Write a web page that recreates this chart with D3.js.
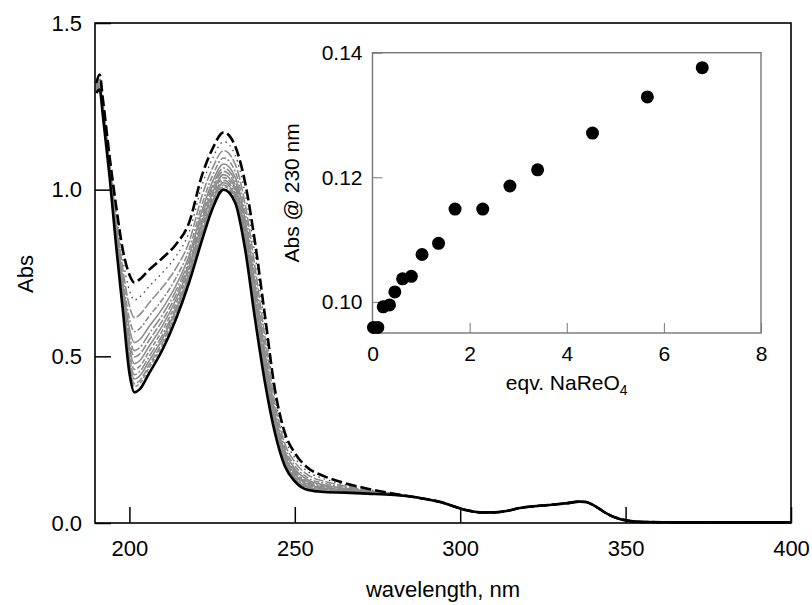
<!DOCTYPE html>
<html>
<head>
<meta charset="utf-8">
<script src="https://cdn.jsdelivr.net/npm/d3@7"></script>
<style>
  body { margin: 0; background: #fff; }
  text { font-family: "Liberation Sans", Arial, sans-serif; fill: #000; }
</style>
</head>
<body>
<svg id="chart" width="812" height="605"></svg>
<script>
// wavelengths where the spectra differ (nm)
const wl = [190, 191, 192, 194, 196, 198, 200, 201.5, 203, 206, 210, 214, 218, 222, 225, 228.5,
  232, 235, 238, 241, 244, 247, 250, 254, 259, 265, 272, 280];

// shared tail, all spectra overlap here
const tailWl = [286, 290, 294, 298, 302, 306, 310, 314, 318, 322, 327, 332, 336, 338, 340, 342,
  344, 346, 348, 350, 353, 357, 365, 380, 400];
const tailAbs = [.078, .071, .063, .050, .038, .032, .032, .036, .045, .050, .054, .059, .064, .063,
  .055, .043, .030, .020, .013, .008, .004, .003, .002, .002, .002];

// first spectrum (dashed black)
const absStart = [1.32, 1.345, 1.27, 1.10, .95, .82, .745, .722, .73, .76, .795, .835, .90, 1.045,
  1.12, 1.172, 1.13, 1.02, .84, .62, .40, .27, .21, .165, .14, .12, .103, .088];

// titration spectra (dotted first, then grey)
const absSteps = [
  [1.315, 1.338, 1.262, 1.090, .931, .791, .698, .669, .677, .710, .751, .799, .871, 1.014, 1.091, 1.144, 1.103, .988, .803, .588, .379, .254, .196, .154, .132, .115, .101, .087],
  [1.310, 1.331, 1.254, 1.081, .912, .762, .651, .616, .624, .661, .707, .763, .842, .983, 1.062, 1.117, 1.076, .956, .766, .556, .358, .238, .183, .144, .125, .111, .098, .087],
  [1.307, 1.325, 1.248, 1.073, .896, .739, .612, .574, .582, .621, .671, .734, .819, .957, 1.039, 1.095, 1.054, .930, .737, .530, .342, .225, .172, .135, .119, .107, .096, .086],
  [1.304, 1.320, 1.243, 1.067, .884, .721, .583, .541, .549, .590, .644, .711, .801, .938, 1.021, 1.077, 1.037, .910, .714, .510, .329, .215, .163, .129, .114, .104, .095, .086],
  [1.301, 1.317, 1.239, 1.063, .876, .708, .562, .517, .525, .568, .625, .696, .788, .924, 1.008, 1.065, 1.025, .896, .697, .496, .319, .208, .157, .124, .111, .102, .094, .086],
  [1.300, 1.314, 1.236, 1.059, .868, .698, .544, .498, .506, .549, .608, .682, .778, .912, .998, 1.055, 1.014, .884, .684, .484, .312, .202, .152, .120, .108, .100, .093, .085],
  [1.298, 1.312, 1.233, 1.056, .861, .687, .527, .478, .486, .531, .592, .669, .767, .901, .987, 1.045, 1.004, .872, .670, .472, .304, .196, .147, .116, .105, .099, .092, .085],
  [1.296, 1.309, 1.231, 1.053, .855, .678, .512, .461, .469, .515, .578, .657, .758, .891, .978, 1.036, .996, .862, .658, .462, .297, .191, .143, .113, .103, .097, .091, .085],
  [1.295, 1.307, 1.228, 1.050, .849, .669, .497, .445, .453, .500, .564, .646, .749, .881, .969, 1.028, .987, .852, .647, .452, .291, .186, .139, .110, .101, .096, .090, .085],
  [1.294, 1.305, 1.226, 1.047, .844, .662, .485, .432, .440, .487, .553, .637, .742, .873, .962, 1.021, .980, .844, .638, .444, .286, .182, .135, .107, .099, .094, .090, .084],
  [1.292, 1.304, 1.224, 1.045, .840, .654, .474, .418, .426, .475, .542, .628, .734, .866, .954, 1.014, .974, .836, .628, .436, .280, .178, .132, .104, .097, .093, .089, .084],
  [1.292, 1.302, 1.223, 1.043, .836, .649, .465, .409, .417, .466, .534, .621, .729, .860, .949, 1.009, .969, .830, .622, .430, .277, .175, .129, .102, .095, .092, .089, .084]
];

// last spectrum (solid black)
const absEnd = [1.29, 1.30, 1.22, 1.04, .83, .64, .45, .392, .40, .45, .52, .61, .72, .85, .94, 1.0,
  .96, .82, .61, .42, .27, .17, .125, .099, .093, .091, .088, .084];

// inset: Abs @ 230 nm vs equivalents of NaReO4
const eqv = [0.02, 0.11, 0.22, 0.35, 0.46, 0.62, 0.80, 1.02, 1.36, 1.70, 2.27, 2.83, 3.40, 4.53, 5.66, 6.79];
const abs230 = [0.0959, 0.0959, 0.0992, 0.0995, 0.1016, 0.1037, 0.1041, 0.1076, 0.1094, 0.1149,
  0.1149, 0.1186, 0.1212, 0.1271, 0.1329, 0.1376];

const xTicks = [200, 250, 300, 350, 400];
const yTicks = [0, 0.5, 1.0, 1.5];
const xTicksInset = [0, 2, 4, 6, 8];
const yTicksInset = [0.10, 0.12, 0.14];

// grey dash styles for the middle spectra
const greyDashes = ['none', '10,2', '6,2,2,2', 'none', '12,2,2,2', '8,2', 'none', '5,2', '10,2,2,2', 'none', '7,2', '4,2'];

const svg = d3.select('#chart');

const margin = { left: 95, right: 791, top: 23, bottom: 523 };

const x = d3.scaleLinear().domain([189.6, 400]).range([margin.left, margin.right]);
const y = d3.scaleLinear().domain([0, 1.5]).range([margin.bottom, margin.top]);

const line = d3.line()
  .x(d => x(d[0]))
  .y(d => y(d[1]))
  .curve(d3.curveMonotoneX);

function spectrum(values) {
  const pts = wl.map((w, i) => [w, values[i]]);
  return pts.concat(tailWl.map((w, i) => [w, tailAbs[i]]));
}

const plot = svg.append('g');

// grey spectra
absSteps.forEach((s, i) => {
  const p = plot.append('path')
    .attr('d', line(spectrum(s)))
    .attr('fill', 'none');
  if (i == 0) {
    p.attr('stroke', '#444').attr('stroke-width', 1.3).attr('stroke-dasharray', '1.5,4');
  } else {
    p.attr('stroke', '#8c8c8c').attr('stroke-width', 1.6).attr('stroke-dasharray', greyDashes[i]);
  }
});

plot.append('path')
  .attr('d', line(spectrum(absStart)))
  .attr('fill', 'none')
  .attr('stroke', '#000')
  .attr('stroke-width', 2.6)
  .attr('stroke-dasharray', '11,4');

plot.append('path')
  .attr('d', line(spectrum(absEnd)))
  .attr('fill', 'none')
  .attr('stroke', '#000')
  .attr('stroke-width', 2.6);

// axes, ticks pointing inwards
svg.append('g')
  .attr('transform', 'translate(0,' + margin.bottom + ')')
  .call(d3.axisBottom(x).tickValues(xTicks).tickSizeInner(-16).tickSizeOuter(0).tickPadding(17))
  .call(g => g.select('.domain').remove())
  .call(g => g.selectAll('line').attr('stroke', '#000').attr('stroke-width', 1.5))
  .call(g => g.selectAll('text').attr('font-size', 22).attr('font-family', 'Liberation Sans, Arial'));

svg.append('g')
  .attr('transform', 'translate(' + margin.left + ',0)')
  .call(d3.axisLeft(y).tickValues(yTicks).tickFormat(d3.format('.1f')).tickSizeInner(-16).tickSizeOuter(0).tickPadding(13))
  .call(g => g.select('.domain').remove())
  .call(g => g.selectAll('line').attr('stroke', '#000').attr('stroke-width', 1.5))
  .call(g => g.selectAll('text').attr('font-size', 22).attr('font-family', 'Liberation Sans, Arial'));

svg.append('rect')
  .attr('x', margin.left)
  .attr('y', margin.top)
  .attr('width', margin.right - margin.left)
  .attr('height', margin.bottom - margin.top)
  .attr('fill', 'none')
  .attr('stroke', '#000')
  .attr('stroke-width', 1.6);

svg.append('text')
  .attr('x', (margin.left + margin.right) / 2)
  .attr('y', 597)
  .attr('text-anchor', 'middle')
  .attr('font-size', 22)
  .text('wavelength, nm');

svg.append('text')
  .attr('transform', 'translate(33,' + 274 + ') rotate(-90)')
  .attr('text-anchor', 'middle')
  .attr('font-size', 22)
  .text('Abs');

// Inset
const inset = { left: 372.5, right: 761, top: 52.7, bottom: 333 };
const xi = d3.scaleLinear().domain([0, 8]).range([inset.left, inset.right]);
const yi = d3.scaleLinear().domain([0.095, 0.14]).range([inset.bottom, inset.top]);

svg.append('g')
  .attr('transform', 'translate(0,' + inset.bottom + ')')
  .call(d3.axisBottom(xi).tickValues(xTicksInset).tickSizeInner(-10).tickSizeOuter(0).tickPadding(13))
  .call(g => g.select('.domain').remove())
  .call(g => g.selectAll('line').attr('stroke', '#777'))
  .call(g => g.selectAll('text').attr('font-size', 21).attr('font-family', 'Liberation Sans, Arial'));

svg.append('g')
  .attr('transform', 'translate(' + inset.left + ',0)')
  .call(d3.axisLeft(yi).tickValues(yTicksInset).tickFormat(d3.format('.2f')).tickSizeInner(-10).tickSizeOuter(0).tickPadding(10))
  .call(g => g.select('.domain').remove())
  .call(g => g.selectAll('line').attr('stroke', '#777'))
  .call(g => g.selectAll('text').attr('font-size', 21).attr('font-family', 'Liberation Sans, Arial'));

svg.append('rect')
  .attr('x', inset.left)
  .attr('y', inset.top)
  .attr('width', inset.right - inset.left)
  .attr('height', inset.bottom - inset.top)
  .attr('fill', 'none')
  .attr('stroke', '#777')
  .attr('stroke-width', 1.4);

svg.selectAll('.dot')
  .data(eqv)
  .enter()
  .append('circle')
  .attr('class', 'dot')
  .attr('cx', d => xi(d))
  .attr('cy', (d, i) => yi(abs230[i]))
  .attr('r', 6.5)
  .attr('fill', '#000');

const xlab = svg.append('text')
  .attr('x', (inset.left + inset.right) / 2)
  .attr('y', 390)
  .attr('text-anchor', 'middle')
  .attr('font-size', 21);
xlab.append('tspan').text('eqv. NaReO');
xlab.append('tspan').attr('font-size', 14).attr('dy', 5).text('4');

svg.append('text')
  .attr('transform', 'translate(299,' + (inset.top + inset.bottom) / 2 + ') rotate(-90)')
  .attr('text-anchor', 'middle')
  .attr('font-size', 21)
  .text('Abs @ 230 nm');
</script>
</body>
</html>
